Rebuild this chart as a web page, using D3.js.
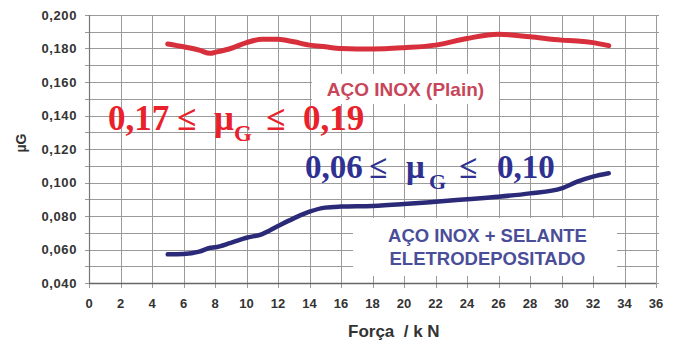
<!DOCTYPE html>
<html>
<head>
<meta charset="utf-8">
<script src="https://cdn.jsdelivr.net/npm/d3@7"></script>
<style>
  body { margin: 0; background: #fff; }
  svg { display: block; }
</style>
</head>
<body>
<script>
// values
var forceKN = [5, 6, 7, 7.7, 8, 9, 10, 11, 12, 13, 14, 15, 16, 18, 20, 22, 24, 26, 28, 30, 31, 32, 33]
var muPlain = [0.1827, 0.181, 0.179, 0.1771, 0.1777, 0.180, 0.1835, 0.1855, 0.1855, 0.184, 0.182, 0.181,
    0.180, 0.1797, 0.1805, 0.182, 0.186, 0.1885, 0.187, 0.185, 0.1845, 0.1835, 0.1817]
var muSealed = [0.0571, 0.0573, 0.0587, 0.061, 0.0613, 0.064, 0.067, 0.0692, 0.074, 0.0786, 0.0826, 0.085,
    0.0856, 0.086, 0.0871, 0.0885, 0.090, 0.0915, 0.0935, 0.0965, 0.1005, 0.1035, 0.1055]
var xTicks = d3.range(0, 37, 2)
var yTicks = d3.range(0.04, 0.2001, 0.02)
var yGrid = d3.range(0.04, 0.2001, 0.01)

var width = 676, height = 343
var margin = { top: 15, right: 20, bottom: 60, left: 89 }

var x = d3.scaleLinear().domain([0, 36]).range([margin.left, width - margin.right])
var y = d3.scaleLinear().domain([0.04, 0.2]).range([height - margin.bottom, margin.top])

var svg = d3.select("body").append("svg")
    .attr("width", width)
    .attr("height", height)

var sans = "'Liberation Sans', Arial, sans-serif"
var serif = "'Liberation Serif', 'Times New Roman', serif"

// grid
var grid = svg.append("g").attr("stroke", "#9a9a9a").attr("stroke-width", 1)
grid.selectAll(".h").data(yGrid).enter().append("line")
    .attr("x1", x(0) - 4).attr("x2", x(36) + 3)
    .attr("y1", d => Math.round(y(d)) + 0.5).attr("y2", d => Math.round(y(d)) + 0.5)
grid.selectAll(".v").data(xTicks).enter().append("line")
    .attr("x1", d => Math.round(x(d)) + 0.5).attr("x2", d => Math.round(x(d)) + 0.5)
    .attr("y1", y(0.2)).attr("y2", y(0.04) + 5)

// axis lines
svg.append("line")
    .attr("x1", x(0)).attr("x2", x(36))
    .attr("y1", Math.round(y(0.04)) + 0.5).attr("y2", Math.round(y(0.04)) + 0.5)
    .attr("stroke", "#666").attr("stroke-width", 1.3)
svg.append("line")
    .attr("x1", Math.round(x(0)) + 0.5).attr("x2", Math.round(x(0)) + 0.5)
    .attr("y1", y(0.2)).attr("y2", y(0.04))
    .attr("stroke", "#777").attr("stroke-width", 1.2)

// tick labels
svg.append("g").selectAll("text").data(yTicks).enter().append("text")
    .attr("x", 77).attr("y", d => y(d) + 4.5)
    .attr("text-anchor", "end")
    .style("font", "bold 13px " + sans).style("letter-spacing", "0.6px")
    .attr("fill", "#333")
    .text(d => d3.format(".3f")(d).replace(".", ","))
svg.append("g").selectAll("text").data(xTicks).enter().append("text")
    .attr("x", d => x(d)).attr("y", 308)
    .attr("text-anchor", "middle")
    .style("font", "bold 13px " + sans)
    .attr("fill", "#333")
    .text(d => d)

// axis titles
svg.append("text")
    .attr("transform", "translate(26,143) rotate(-90)")
    .attr("text-anchor", "middle")
    .style("font", "bold 14px " + sans)
    .attr("fill", "#333")
    .text("µG")
svg.append("text")
    .attr("x", 348).attr("y", 337)
    .style("font", "bold 17px " + sans)
    .attr("fill", "#333")
    .attr("xml:space", "preserve")
    .text("Força  / k N")

// label boxes
svg.append("rect").attr("x", 312).attr("y", 74).attr("width", 187).attr("height", 30).attr("fill", "#fff")
svg.append("rect").attr("x", 353).attr("y", 218).attr("width", 264).attr("height", 58).attr("fill", "#fff")

svg.append("text")
    .attr("x", 405.5).attr("y", 96)
    .attr("text-anchor", "middle")
    .style("font", "bold 19px " + sans)
    .attr("fill", "#c8465a")
    .text("AÇO INOX (Plain)")
var blueLabel = svg.append("text")
    .attr("text-anchor", "middle")
    .style("font", "bold 18.5px " + sans)
    .attr("fill", "#4a4e98")
blueLabel.append("tspan").attr("x", 487.5).attr("y", 242).text("AÇO INOX + SELANTE")
blueLabel.append("tspan").attr("x", 487.5).attr("y", 265).text("ELETRODEPOSITADO")

// curves
var line = d3.line()
    .x(d => x(d[0]))
    .y(d => y(d[1]))
    .curve(d3.curveMonotoneX)

svg.append("path")
    .datum(forceKN.map((f, i) => [f, muPlain[i]]))
    .attr("d", line)
    .attr("fill", "none")
    .attr("stroke", "#d7303c")
    .attr("stroke-width", 5)
    .attr("stroke-linecap", "round")
svg.append("path")
    .datum(forceKN.map((f, i) => [f, muSealed[i]]))
    .attr("d", line)
    .attr("fill", "none")
    .attr("stroke", "#2a2a78")
    .attr("stroke-width", 4.5)
    .attr("stroke-linecap", "round")

// range annotations
function rangeText(parts, color, base, size, subSize) {
    var g = svg.append("g").attr("fill", color).style("font-family", serif).style("font-weight", "bold")
    parts.forEach(p => {
        g.append("text")
            .attr("x", p[0])
            .attr("y", p[2] ? base + 11 : base)
            .style("font-size", (p[2] ? subSize : size) + "px")
            .text(p[1])
    })
}
rangeText([[108, "0,17"], [177, "≤"], [214, "μ"], [234, "G", true], [266, "≤"], [303, "0,19"]],
    "#e8212b", 130, 35, 23)
rangeText([[305, "0,06"], [369, "≤"], [406, "μ"], [429, "G", true], [459, "≤"], [497, "0,10"]],
    "#2e3192", 178, 33, 22)
</script>
</body>
</html>
